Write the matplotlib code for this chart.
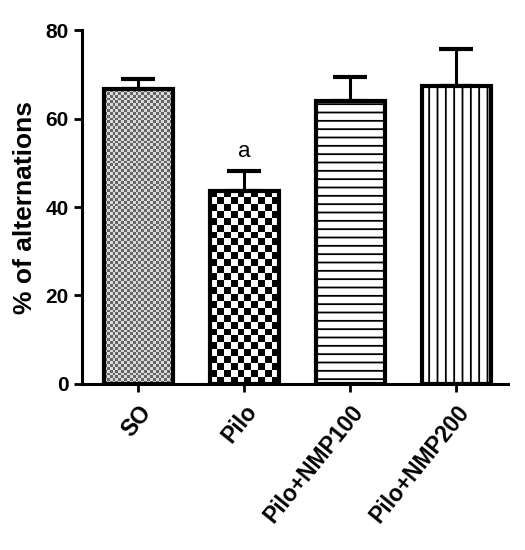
import numpy as np
import matplotlib
matplotlib.use("Agg")
import matplotlib.pyplot as plt

categories = ["SO", "Pilo", "Pilo+NMP100", "Pilo+NMP200"]
means = [66.7, 43.7, 64.0, 67.5]
errors = [2.2, 4.4, 5.4, 8.2]
annotations = ["", "a", "", ""]
y_ticks = [0, 20, 40, 60, 80]

plt.rcParams['font.family'] = ['Liberation Sans', 'DejaVu Sans']
plt.rcParams['hatch.color'] = '#222222'
plt.rcParams['hatch.linewidth'] = 1.3

fig = plt.figure(figsize=(5.25, 5.5), dpi=100)
ax = fig.add_axes([0.156, 0.302, 0.812, 0.643])

x = np.arange(len(categories))
bars = ax.bar(x, means, width=0.65, facecolor='white', edgecolor='black',
              linewidth=3, zorder=3)
bars[2].set_hatch('--')
bars[3].set_hatch('||')

ax.errorbar(x, means, yerr=[np.zeros(len(errors)), errors], fmt='none',
            ecolor='black', elinewidth=2.2, capsize=12, capthick=3, zorder=2)

ax.set_xlim(-0.53, 3.49)
ax.set_ylim(0, 80)

# checkerboard fills for the first two bars
cells = [24, 10]
for i, n in enumerate(cells):
    b = bars[i]
    x0, w, h = b.get_x(), b.get_width(), b.get_height()
    bb = b.get_window_extent(fig.canvas.get_renderer())
    nrows = max(1, int(round(n * bb.height / bb.width)))
    ii, jj = np.indices((nrows, n))
    board = ((ii + jj) % 2).astype(float)
    dark = 0.4 if i == 0 else 0.0
    light = 0.85 if i == 0 else 1.0
    img = np.where(board > 0, light, dark)
    im = ax.imshow(img, cmap='gray', vmin=0, vmax=1, extent=[x0, x0 + w, 0, h],
                   aspect='auto', interpolation='nearest', zorder=2.5)
    im.set_clip_path(b)
    b.set_facecolor('none')

for xi, m, e, t in zip(x, means, errors, annotations):
    if t:
        ax.text(xi, m + e + 2, t, ha='center', va='bottom', fontsize=16)

ax.set_yticks(y_ticks)
ax.set_yticklabels([str(v) for v in y_ticks], fontsize=15, fontweight='bold')
ax.set_xticks(x)
ax.set_xticklabels(categories, rotation=51, ha='right', rotation_mode='anchor',
                   fontsize=16.5, fontweight='bold')
ax.set_ylabel("% of alternations", fontsize=19, fontweight='bold', labelpad=6)

for s in ['top', 'right']:
    ax.spines[s].set_visible(False)
for s in ['left', 'bottom']:
    ax.spines[s].set_linewidth(2.2)
ax.tick_params(axis='both', direction='out', length=6, width=2)
ax.tick_params(axis='x', pad=6)

fig.savefig("out.png", dpi=100)
